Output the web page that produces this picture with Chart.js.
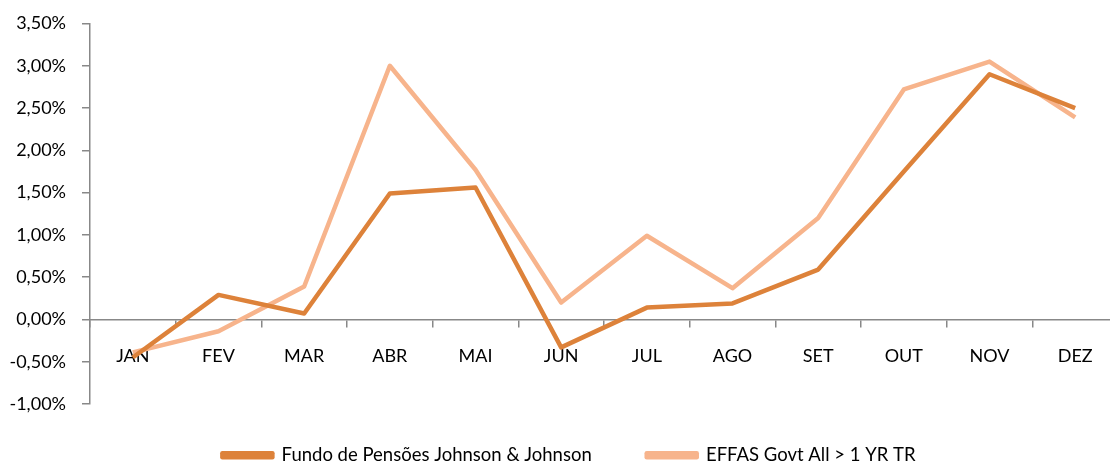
<!DOCTYPE html>
<html>
<head>
<meta charset="utf-8">
<script src="https://cdn.jsdelivr.net/npm/chart.js@4"></script>
<style>
  html, body { margin: 0; padding: 0; background: #fff; overflow: hidden; }
  #wrap { width: 1110px; height: 465px; overflow: hidden; }
  #box { width: 1120px; height: 465px; }
</style>
</head>
<body>
<div id="wrap"><div id="box"><canvas id="chart"></canvas></div></div>
<script>
// Dados
const meses = ['JAN', 'FEV', 'MAR', 'ABR', 'MAI', 'JUN', 'JUL', 'AGO', 'SET', 'OUT', 'NOV', 'DEZ'];
const fundoJJ = [-0.45, 0.29, 0.07, 1.49, 1.56, -0.33, 0.14, 0.19, 0.59, 1.75, 2.90, 2.50];
const effas = [-0.39, -0.14, 0.39, 3.00, 1.77, 0.20, 0.99, 0.37, 1.20, 2.72, 3.05, 2.39];
const yMin = -1, yMax = 3.5, yStep = 0.5;

const fmt = v => v.toFixed(2).replace('.', ',') + '%';

// altura fixa da legenda + deslocamento do desenho
const legendSpace = {
  id: 'legendSpace',
  beforeInit(chart) {
    const legend = chart.legend;
    const fit = legend.fit;
    legend.fit = function () {
      fit.bind(legend)();
      this.height = 61;
    };
    const draw = legend.draw;
    legend.draw = function () {
      const { top, left, right } = legend;
      legend.top = top - 13;
      legend.left = left + 10;
      legend.right = right + 10;
      draw.apply(legend, arguments);
      legend.top = top;
      legend.left = left;
      legend.right = right;
    };
  }
};

const ctx = document.getElementById('chart').getContext('2d');
new Chart(ctx, {
  type: 'line',
  data: {
    labels: meses,
    datasets: [
      {
        label: 'Fundo de Pensões Johnson & Johnson',
        data: fundoJJ,
        borderColor: '#dd823a',
        backgroundColor: '#dd823a',
        borderWidth: 4.5,
        pointRadius: 0,
        tension: 0,
        borderJoinStyle: 'round'
      },
      {
        label: 'EFFAS Govt All > 1 YR TR',
        data: effas,
        borderColor: '#f7b48c',
        backgroundColor: '#f7b48c',
        borderWidth: 4.5,
        pointRadius: 0,
        tension: 0,
        borderJoinStyle: 'round'
      }
    ]
  },
  options: {
    responsive: true,
    maintainAspectRatio: false,
    animation: false,
    layout: { padding: { top: 23.5, right: 2, left: 0, bottom: 0 } },
    plugins: {
      tooltip: { enabled: false },
      legend: {
        position: 'bottom',
        labels: {
          color: '#000',
          font: { family: 'Lato', size: 18.5 },
          boxWidth: 50,
          boxHeight: 4,
          padding: 55
        }
      }
    },
    scales: {
      x: {
        position: { y: 0 },
        offset: true,
        grid: { offset: true, drawOnChartArea: false, tickLength: 7, color: '#888', lineWidth: 1.5 },
        border: { color: '#888', width: 1.5 },
        ticks: { color: '#000', font: { family: 'Lato', size: 18 }, padding: 19, maxRotation: 0 }
      },
      y: {
        min: yMin,
        max: yMax,
        afterFit(scale) {
          scale.width = 90;
          scale.paddingTop = 0;
          scale.paddingBottom = 0;
        },
        grid: { drawOnChartArea: false, tickLength: 8, color: '#888', lineWidth: 1.5 },
        border: { color: '#888', width: 1.5 },
        ticks: { stepSize: yStep, color: '#000', font: { family: 'Lato', size: 18 }, padding: 16, callback: v => fmt(v) }
      }
    }
  },
  plugins: [legendSpace]
});
</script>
</body>
</html>
